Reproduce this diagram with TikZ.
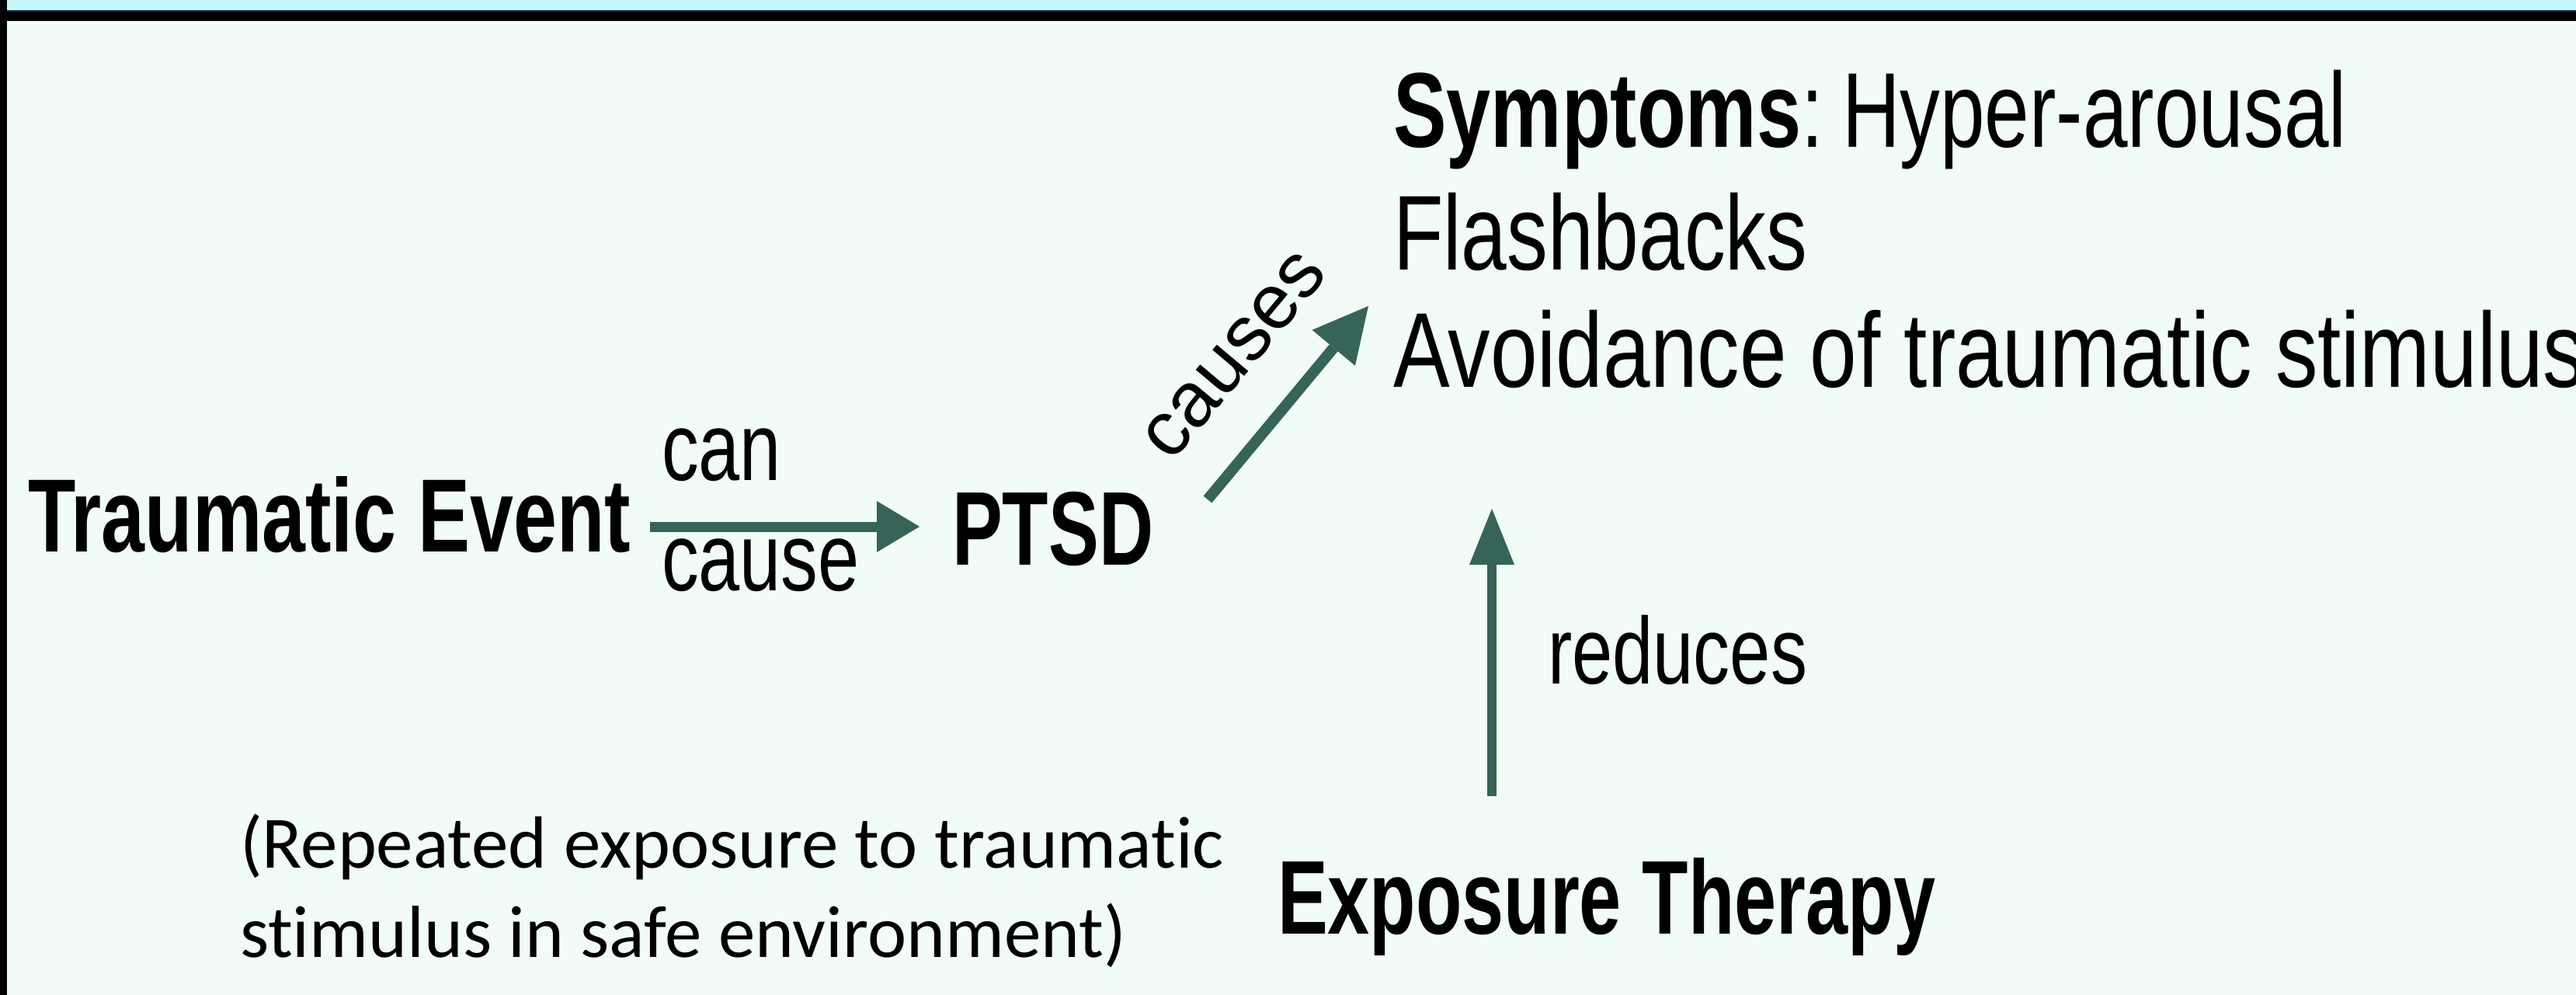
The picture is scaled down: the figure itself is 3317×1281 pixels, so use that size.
\documentclass[tikz,border=0pt]{standalone}
\usepackage{fontspec}
\setmainfont{Liberation Sans}
\newfontfamily\condR[FakeStretch=0.77]{Liberation Sans}
\newfontfamily\condRN[FakeStretch=0.755]{Liberation Sans}
\newfontfamily\condRW[FakeStretch=0.795]{Liberation Sans}
\newfontfamily\condB[FakeStretch=0.72]{Liberation Sans}
\newfontfamily\condBW[FakeStretch=0.75]{Liberation Sans}
\newfontfamily\plainS{Liberation Sans}
\newfontfamily\carl[Ligatures=NoCommon]{Carlito}
\usetikzlibrary{arrows.meta}
\definecolor{bgc}{RGB}{242,252,247}
\definecolor{bandc}{RGB}{198,248,250}
\definecolor{navyc}{RGB}{30,48,80}
\definecolor{arrc}{RGB}{54,100,88}
\tikzset{
  lbl/.style={inner sep=0pt, outer sep=0pt, anchor=base west, text=black},
  bigb/.style={lbl, font=\condB\bfseries\fontsize{135}{160}\selectfont},
  bigr/.style={lbl, font=\condR\fontsize{137}{160}\selectfont},
  small/.style={lbl, font=\condR\fontsize{124}{150}\selectfont},
  note/.style={lbl, font=\carl\fontsize{95}{115}\selectfont},
  conn/.style={draw=arrc, line cap=butt},
}
\begin{document}
\begin{tikzpicture}[x=1pt,y=-1pt]
\useasboundingbox (0,0) rectangle (3317,1281);
% background and frame
\fill[bgc] (0,0) rectangle (3317,1281);
\fill[bandc] (0,0) rectangle (3317,13);
\fill[navyc] (0,13) rectangle (3317,15);
\fill[black] (0,15) rectangle (3317,27);
\fill[black] (0,0) rectangle (9,1281);

% nodes
\node[bigb, font=\condBW\bfseries\fontsize{134}{160}\selectfont] (te) at (36,710) {Traumatic Event};
\node[bigb] (ptsd) at (1226,727) {PTSD};
\node[small] (can) at (852,618) {can};
\node[small] (cause) at (852,760) {cause};
\node[bigr, font=\condRN\fontsize{137}{160}\selectfont] (sym1) at (1794,190) {{\condBW\bfseries Symptoms}:\hspace{24pt}Hyper-arousal};
\node[bigr] (sym2) at (1794,347) {Flashbacks};
\node[bigr, font=\condRW\fontsize{137}{160}\selectfont] (sym3) at (1794,498) {Avoidance of traumatic stimulus};
\node[inner sep=0pt, font=\plainS\fontsize{100}{120}\selectfont, rotate=50] (causes) at (1590,458) {causes};
\node[small, font=\condR\fontsize{122}{150}\selectfont] (red) at (1993,880) {reduces};
\node[bigb] (et) at (1645,1202) {Exposure Therapy};
\node[note] (n1) at (309,1117) {(Repeated exposure to traumatic};
\node[note] (n2) at (309,1232) {stimulus in safe environment)};

% connector end points
\coordinate (a1s) at (837,678);
\coordinate (a1e) at (1184,678);
\coordinate (a2s) at (1555,643);
\coordinate (a2e) at (1762,394);
\coordinate (a3s) at (1921,1025);
\coordinate (a3e) at (1921,655);

\draw[conn, line width=13pt, -{Triangle[length=55pt,width=66pt,line width=0pt]}] (a1s) -- (a1e);
\draw[conn, line width=14pt, -{Triangle[length=70pt,width=72pt,line width=0pt]}] (a2s) -- (a2e);
\draw[conn, line width=12pt, -{Triangle[length=72pt,width=58pt,line width=0pt]}] (a3s) -- (a3e);
\end{tikzpicture}
\end{document}
